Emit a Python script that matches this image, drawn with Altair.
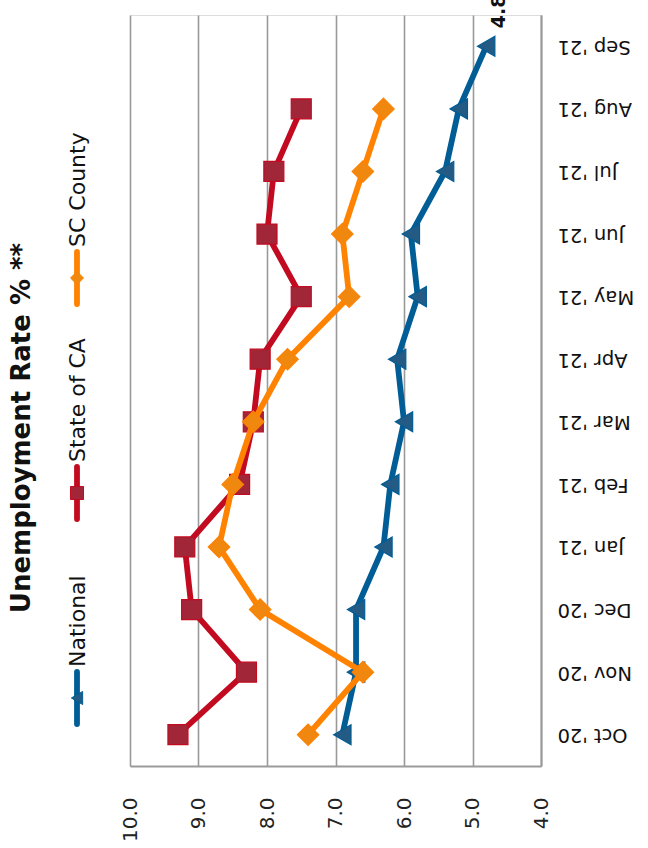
import altair as alt
import pandas as pd

# --- data -------------------------------------------------------------------
months = ["Oct '20", "Nov '20", "Dec '20", "Jan '21", "Feb '21", "Mar '21",
          "Apr '21", "May '21", "Jun '21", "Jul '21", "Aug '21", "Sep '21"]
national = [6.9, 6.7, 6.7, 6.3, 6.2, 6.0, 6.1, 5.8, 5.9, 5.4, 5.2, 4.8]
state_ca = [9.3, 8.3, 9.1, 9.2, 8.4, 8.2, 8.1, 7.5, 8.0, 7.9, 7.5, None]
sc_county = [7.4, 6.6, 8.1, 8.7, 8.5, 8.2, 7.7, 6.8, 6.9, 6.6, 6.3, None]
series = ["National", "State of CA", "SC County"]
rate_ticks = [4.0, 5.0, 6.0, 7.0, 8.0, 9.0, 10.0]
title_text = "Unemployment Rate % **"

# --- styling ----------------------------------------------------------------
FONT = "DejaVu Sans"
line_colors = {"National": "#005D95", "State of CA": "#C20B20", "SC County": "#FF8200"}
fill_colors = {"National": "#235B84", "State of CA": "#A12638", "SC County": "#F0870F"}
shapes = {"National": "triangle-left", "State of CA": "square", "SC County": "diamond"}
sizes = {"National": 400, "State of CA": 400, "SC County": 460}
legend_pos = {"National": 683, "State of CA": 478, "SC County": 263}  # px along the legend strip

PLOT_W, PLOT_H = 411, 751

values = {"National": national, "State of CA": state_ca, "SC County": sc_county}
rows = []
for name in series:
    for m, v in zip(months, values[name]):
        if v is not None:
            rows.append({"series": name, "month": m, "rate": v})
df = pd.DataFrame(rows)

x_enc = alt.X(
    "rate:Q",
    scale=alt.Scale(domain=[4, 10], reverse=True, nice=False, zero=False),
    axis=alt.Axis(
        values=rate_ticks, format=".1f", title=None, orient="bottom",
        labelAngle=270, labelAlign="right", labelBaseline="middle",
        labelPadding=31, labelFont=FONT, labelFontSize=20, labelColor="#222222",
        ticks=False, domain=True, domainColor="#9a9a9a", domainWidth=2,
        grid=True, gridColor="#999999", gridWidth=1.6,
    ),
)
y_enc = alt.Y(
    "month:N",
    sort=list(reversed(months)),
    axis=alt.Axis(
        title=None, orient="right", labelAngle=180, labelAlign="right",
        labelBaseline="middle", labelPadding=16, labelFont=FONT,
        labelFontSize=19.5, labelColor="#111111", ticks=False,
        domain=True, domainColor="#9a9a9a", domainWidth=2, grid=False,
        labelOverlap=False,
    ),
)

layers = []
for name in series:
    sub = df[df["series"] == name]
    base = alt.Chart(sub)
    layers.append(
        base.mark_line(color=line_colors[name], strokeWidth=5.8).encode(x=x_enc, y=y_enc)
    )
    layers.append(
        base.mark_point(
            shape=shapes[name], filled=True, size=sizes[name], opacity=1,
            fill=fill_colors[name], stroke=line_colors[name], strokeWidth=1.2,
        ).encode(x=x_enc, y=y_enc)
    )

# value label on the latest national reading
last_df = df[(df["series"] == "National") & (df["month"] == months[-1])]
layers.append(
    alt.Chart(last_df).mark_text(
        angle=270, align="left", baseline="middle", dx=18, dy=13,
        font=FONT, fontSize=19, fontWeight="bold", color="#111111",
    ).encode(x=x_enc, y=y_enc, text=alt.Text("rate:Q", format=".1f"))
)

# custom vertical legend in the left margin
leg = pd.DataFrame({"series": series, "pos": [legend_pos[s] for s in series]})
for name in series:
    sub = leg[leg["series"] == name]
    lb = alt.Chart(sub).transform_calculate(
        top="datum.pos - 26", bot="datum.pos + 26", label_at="datum.pos - 31"
    )
    layers.append(
        lb.mark_rule(color=line_colors[name], strokeWidth=5.8, strokeCap="round").encode(
            x=alt.value(-53),
            y=alt.Y("top:Q", scale=None),
            y2=alt.Y2("bot:Q"),
        )
    )
    layers.append(
        lb.mark_point(
            shape=shapes[name], filled=True, size=170, opacity=1,
            fill=fill_colors[name], stroke=line_colors[name], strokeWidth=1,
        ).encode(x=alt.value(-53), y=alt.Y("pos:Q", scale=None))
    )
    layers.append(
        lb.mark_text(
            angle=270, align="left", baseline="middle", font=FONT,
            fontSize=22, color="#111111",
        ).encode(x=alt.value(-52), y=alt.Y("label_at:Q", scale=None), text="series:N")
    )

# chart title, set vertically on the far left
layers.append(
    alt.Chart(pd.DataFrame({"t": [title_text]})).mark_text(
        angle=270, align="center", baseline="middle", font=FONT,
        fontSize=26, fontWeight="bold", color="#111111",
    ).encode(x=alt.value(-108), y=alt.value(413), text="t:N")
)

chart = alt.layer(*layers).properties(
    width=PLOT_W, height=PLOT_H,
    autosize=alt.AutoSizeParams(type="none"),
    padding={"left": 130, "top": 15, "right": 107, "bottom": 82},
).configure_view(stroke=None).configure(background="white")

chart.save("out.html", embed_options={"renderer": "svg", "actions": False})
